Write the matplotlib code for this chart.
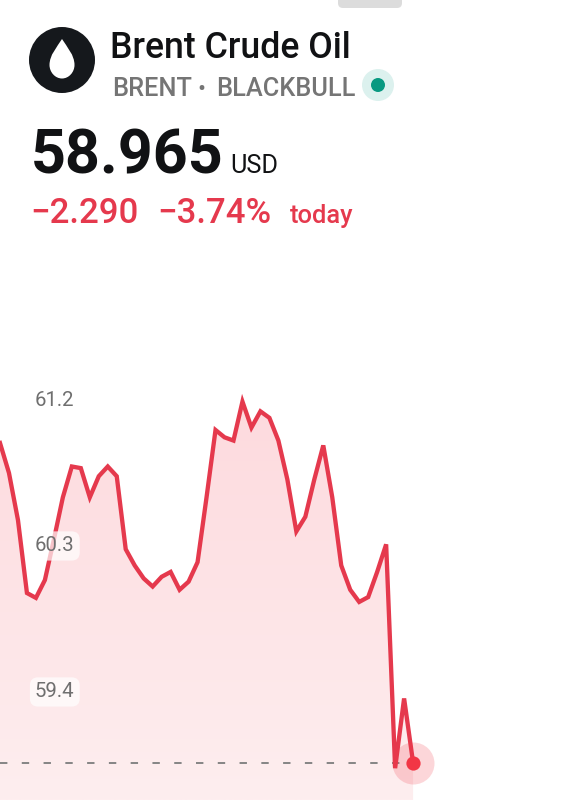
import numpy as np
import matplotlib.pyplot as plt
from matplotlib.colors import LinearSegmentedColormap
from matplotlib.patches import Circle, FancyBboxPatch, PathPatch, Polygon
from matplotlib.path import Path

plt.rcParams['font.family'] = ['Roboto', 'DejaVu Sans']

prices = [60.935, 60.75, 60.46, 60.01, 59.98, 60.09, 60.34, 60.60, 60.79, 60.78,
          60.60, 60.73, 60.79, 60.73, 60.28, 60.18, 60.10, 60.05, 60.11, 60.14,
          60.03, 60.08, 60.20, 60.60, 61.015, 60.97, 60.95, 61.19, 61.03, 61.13,
          61.09, 60.95, 60.71, 60.39, 60.48, 60.71, 60.92, 60.60, 60.18, 60.03,
          59.955, 59.985, 60.14, 60.31, 58.93, 59.36, 58.965]
price_labels = ['61.2', '60.3', '59.4']
price_label_y = [61.2, 60.3, 59.4]
last_price = 58.965

W, H = 577, 800
RED = '#e5394d'
INK = '#111214'
GREY = '#757575'
PX_PER_STEP = 8.98
PX_PER_USD = 162.2

fig = plt.figure(figsize=(W / 100, H / 100), dpi=100, facecolor='white')


def tx(x, y, s, size, color, weight='normal', **kw):
    # x, y are picture pixels, y is the baseline
    fig.text(x / W, 1 - y / H, s, fontsize=size, color=color, weight=weight,
             va='baseline', zorder=10, **kw)


# chart, the whole figure is the axes
ax = fig.add_axes([0, 0, 1, 1])
ax.axis('off')
x = np.arange(len(prices))
xlim = (0, W / PX_PER_STEP)
ylim = (61.2 - (H - 400) / PX_PER_USD, 61.2 + 400 / PX_PER_USD)

# gradient under the line
cmap = LinearSegmentedColormap.from_list('area', ['#fddade', '#feeeef'])
grad = np.linspace(0, 1, 256).reshape(-1, 1)
im = ax.imshow(grad, cmap=cmap, aspect='auto', zorder=1,
               extent=(0, x[-1], ylim[0], 61.2))
poly = Polygon(list(zip(x, prices)) + [(x[-1], ylim[0]), (0, ylim[0])],
               transform=ax.transData, facecolor='none', edgecolor='none')
ax.add_patch(poly)
im.set_clip_path(poly)

ax.plot([0, x[-1]], [last_price, last_price], color='#858585', lw=1.4, zorder=2,
        linestyle=(0, (3.8, 7.4)), dash_capstyle='butt')
ax.plot(x, prices, color=RED, lw=3.1, solid_joinstyle='miter', zorder=3)
ax.scatter([x[-1]], [last_price], s=914, color='#f23645', alpha=0.2, lw=0, zorder=4)
ax.scatter([x[-1]], [last_price], s=105, color='#f23645', lw=0, zorder=5)
ax.set_xlim(xlim)
ax.set_ylim(ylim)

for lab, v in zip(price_labels, price_label_y):
    box = None if lab == '61.2' else dict(boxstyle='round,pad=0.25,rounding_size=0.4',
                                          fc='white', ec='none', alpha=0.7)
    ax.text(35 / PX_PER_STEP, v, lab, fontsize=14.7, color='#6f6f6f',
            va='center', ha='left', bbox=box, zorder=6)

# header shapes, in pixels
top = fig.add_axes([0, 0, 1, 1])
top.axis('off')
top.patch.set_alpha(0)
top.set_xlim(0, W)
top.set_ylim(H, 0)
top.add_patch(FancyBboxPatch((338, -6), 64, 14, boxstyle='round,pad=0,rounding_size=5',
                             fc='#dcdcdc', ec='none'))
top.add_patch(Circle((62, 60), 33, fc='#15181c', ec='none'))
drop = Path([(62, 39), (57, 47), (49.5, 55), (49.5, 65), (49.5, 72), (55, 78.5), (62, 78.5),
             (69, 78.5), (74.5, 72), (74.5, 65), (74.5, 55), (67, 47), (62, 39)],
            [Path.MOVETO] + [Path.CURVE4] * 12)
top.add_patch(PathPatch(drop, fc='white', ec='none'))
top.add_patch(Circle((378, 85), 16, fc='#dcf1ee', ec='none'))
top.add_patch(Circle((378, 85), 7, fc='#089981', ec='none'))

tx(110, 57.5, 'Brent Crude Oil', 25.7, INK, weight='medium')
tx(112, 96, 'BRENT', 18.3, GREY, weight='medium')
tx(197, 96, '•', 17, GREY)
tx(216, 96, 'BLACKBULL', 18.3, GREY, weight='medium')
tx(31, 173, '58.965', 44, INK, weight='bold')
tx(230, 173, 'USD', 18.2, INK)
tx(30, 223, '\u22122.290', 25, RED, weight='medium')
tx(157, 223, '\u22123.74%', 25, RED, weight='medium')
tx(290, 223, 'today', 18.4, RED, weight='medium')

fig.savefig('out.png', dpi=100, facecolor='white')
plt.close(fig)
